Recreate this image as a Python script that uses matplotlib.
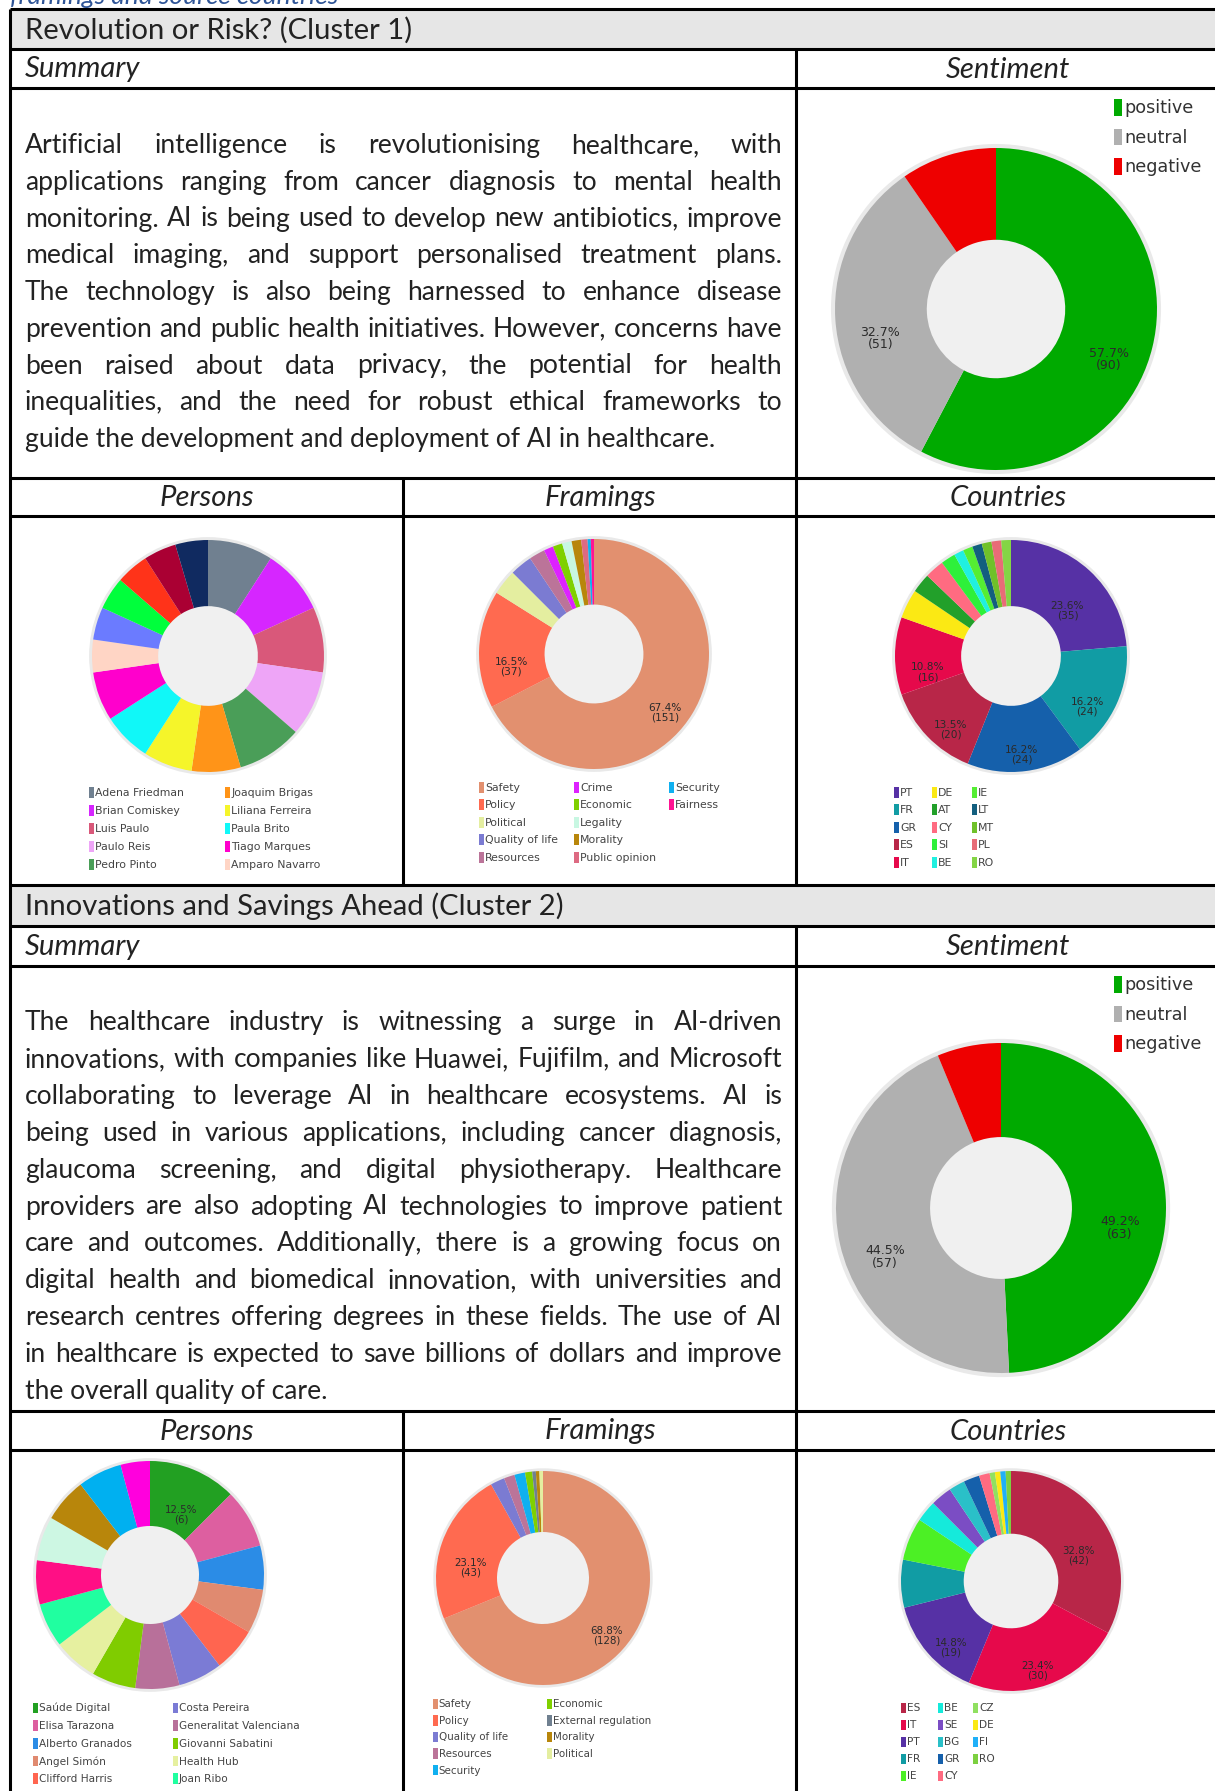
import matplotlib
matplotlib.use("Agg")
import matplotlib.pyplot as plt
from matplotlib.patches import Circle, Rectangle
from matplotlib.legend import Legend

# ---------------- data ----------------
caption = "framings and source countries"
cluster_titles = ["Revolution or Risk? (Cluster 1)",
                  "Innovations and Savings Ahead (Cluster 2)"]

summary_1 = [
    "Artificial intelligence is revolutionising healthcare, with",
    "applications ranging from cancer diagnosis to mental health",
    "monitoring. AI is being used to develop new antibiotics, improve",
    "medical imaging, and support personalised treatment plans.",
    "The technology is also being harnessed to enhance disease",
    "prevention and public health initiatives. However, concerns have",
    "been raised about data privacy, the potential for health",
    "inequalities, and the need for robust ethical frameworks to",
    "guide the development and deployment of AI in healthcare.",
]
summary_2 = [
    "The healthcare industry is witnessing a surge in AI-driven",
    "innovations, with companies like Huawei, Fujifilm, and Microsoft",
    "collaborating to leverage AI in healthcare ecosystems. AI is",
    "being used in various applications, including cancer diagnosis,",
    "glaucoma screening, and digital physiotherapy. Healthcare",
    "providers are also adopting AI technologies to improve patient",
    "care and outcomes. Additionally, there is a growing focus on",
    "digital health and biomedical innovation, with universities and",
    "research centres offering degrees in these fields. The use of AI",
    "in healthcare is expected to save billions of dollars and improve",
    "the overall quality of care.",
]

sentiment_labels = ["positive", "neutral", "negative"]
sentiment_colors = ["#00aa00", "#b0b0b0", "#ee0000"]
sentiment_1 = [90, 51, 15]
sentiment_2 = [63, 57, 8]

persons_1_labels = ["Adena Friedman", "Brian Comiskey", "Luis Paulo", "Paulo Reis",
                    "Pedro Pinto", "Joaquim Brigas", "Liliana Ferreira", "Paula Brito",
                    "Tiago Marques", "Amparo Navarro"]
persons_1_values = [4, 4, 4, 4, 4, 3, 3, 3, 3, 2, 2, 2, 2, 2, 2]
persons_1_colors = ["#708090", "#d626ff", "#d9587a", "#eea5f7", "#4a9e58", "#ff9418",
                    "#f5f52a", "#10f8f8", "#ff00cc", "#ffd5c5", "#6b7bff", "#00ff3c",
                    "#ff3319", "#aa0033", "#102a60"]

framings_1_labels = ["Safety", "Policy", "Political", "Quality of life", "Resources",
                     "Crime", "Economic", "Legality", "Morality", "Public opinion",
                     "Security", "Fairness"]
framings_1_values = [151, 37, 8, 7, 5, 3, 3, 3, 3, 2, 1, 1]
framings_1_colors = ["#e2906f", "#ff6a50", "#e4eea0", "#7b7bd2", "#bb7499", "#dd22ff",
                     "#7fd000", "#c8f7e2", "#b8860b", "#dd6a82", "#10b0f0", "#ff1493"]

countries_1_labels = ["PT", "FR", "GR", "ES", "IT", "DE", "AT", "CY", "SI", "BE",
                      "IE", "LT", "MT", "PL", "RO"]
countries_1_values = [35, 24, 24, 20, 16, 6, 4, 4, 3, 2, 2, 2, 2, 2, 2]
countries_1_colors = ["#5631a5", "#119ca4", "#1560ab", "#b82648", "#e6094b", "#fbe914",
                      "#22a02a", "#ff6b81", "#2ef03a", "#20f0e0", "#55ee33", "#135f7f",
                      "#70c12a", "#e86c77", "#84d545"]

persons_2_labels = ["Saúde Digital", "Elisa Tarazona", "Alberto Granados", "Angel Simón",
                    "Clifford Harris", "Costa Pereira", "Generalitat Valenciana",
                    "Giovanni Sabatini", "Health Hub", "Joan Ribo"]
persons_2_values = [6, 4, 3, 3, 3, 3, 3, 3, 3, 3, 3, 3, 3, 3, 2]
persons_2_colors = ["#22a022", "#dd5fa0", "#2b8ce6", "#e08a70", "#ff6550", "#7b7bd5",
                    "#b8709a", "#80cc00", "#e6f0a0", "#20ffa0", "#ff0f85", "#cdf7e3",
                    "#b8860b", "#00b0f0", "#ff00dd"]

framings_2_labels = ["Safety", "Policy", "Quality of life", "Resources", "Security",
                     "Economic", "External regulation", "Morality", "Political"]
framings_2_values = [128, 43, 4, 3, 3, 2, 1, 1, 1]
framings_2_colors = ["#e2906f", "#ff6a50", "#7b7bd2", "#bb7499", "#10b0f0", "#7fd000",
                     "#708090", "#b8860b", "#e4eea0"]

countries_2_labels = ["ES", "IT", "PT", "FR", "IE", "BE", "SE", "BG", "GR", "CY",
                      "CZ", "DE", "FI", "RO"]
countries_2_values = [42, 30, 19, 9, 8, 4, 4, 3, 3, 2, 1, 1, 1, 1]
countries_2_colors = ["#b82648", "#e6094b", "#5631a5", "#119ca4", "#4cf025", "#15eadb",
                      "#7b4dc4", "#2ac0c8", "#1560ab", "#ff6b81", "#90e060", "#fbe914",
                      "#20b0f8", "#7cd040"]

# ---------------- figure ----------------
W, H = 1215, 1791
fig = plt.figure(figsize=(W / 100, H / 100), dpi=100)
fig.patch.set_facecolor("white")
bg = fig.add_axes([0, 0, 1, 1])
bg.set_xlim(0, W)
bg.set_ylim(H, 0)
bg.axis("off")
renderer = fig.canvas.get_renderer()

FONT = ["Lato", "DejaVu Sans"]
FW = "normal"
TXT = "#222222"


def text_width(s, fs, **kw):
    t = bg.text(0, 0, s, fontsize=fs, family=FONT, fontweight=FW, **kw)
    w = t.get_window_extent(renderer).width
    t.remove()
    return w


# ---------------- table grid ----------------
LX, RX = 10, W + 5
C1, C2 = 403, 796
LW = 2.2


def hline(y):
    bg.plot([LX, RX], [y, y], color="black", lw=LW, solid_capstyle="butt", zorder=3)


def vline(x, y0, y1):
    bg.plot([x, x], [y0, y1], color="black", lw=LW, solid_capstyle="butt", zorder=3)


blocks = [
    dict(top=9, title_b=49, sum_b=88, cont_b=478, hdr_b=516, bot=885),
    dict(top=885, title_b=926, sum_b=966, cont_b=1411, hdr_b=1450, bot=1795),
]
for b in blocks:
    bg.add_patch(Rectangle((LX, b["top"]), RX - LX, b["title_b"] - b["top"],
                           facecolor="#e6e6e6", edgecolor="none", zorder=1))
    for y in (b["top"], b["title_b"], b["sum_b"], b["cont_b"], b["hdr_b"]):
        hline(y)
    vline(C2, b["title_b"], b["bot"])
    vline(C1, b["cont_b"], b["bot"])
vline(LX, 9, H + 5)

# caption (page text cut at the top edge, as in the source)
bg.text(10, 3.5, caption, fontsize=19, family=FONT, style="italic",
        color="#2f5597", va="baseline")

# headings
title_fs = 10 * 388 / text_width(cluster_titles[0], 10)
for b, title in zip(blocks, cluster_titles):
    bg.text(25, (b["top"] + b["title_b"]) / 2 + 1, title, fontsize=title_fs,
            family=FONT, fontweight=FW, color=TXT, va="center", ha="left", zorder=4)
    ym = (b["title_b"] + b["sum_b"]) / 2 + 1
    bg.text(25, ym, "Summary", fontsize=title_fs, family=FONT, fontweight=FW,
            style="italic", color=TXT, va="center", ha="left")
    bg.text(1008, ym, "Sentiment", fontsize=title_fs, family=FONT, fontweight=FW,
            style="italic", color=TXT, va="center", ha="center")
    yh = (b["cont_b"] + b["hdr_b"]) / 2 + 1
    for xc, lab in ((207, "Persons"), (600, "Framings"), (1008, "Countries")):
        bg.text(xc, yh, lab, fontsize=title_fs, family=FONT, fontweight=FW,
                style="italic", color=TXT, va="center", ha="center")

# justified summary text
X0, X1 = 25, 782
longest = max(text_width(s, 10) for s in summary_1 + summary_2)
body_fs = 10 * (X1 - X0) / longest * 0.995


def justified(lines, y_first, dy):
    for i, line in enumerate(lines):
        y = y_first + i * dy
        if i == len(lines) - 1:
            bg.text(X0, y, line, fontsize=body_fs, family=FONT, fontweight=FW,
                    color=TXT, va="baseline")
            continue
        words = line.split()
        ws = [text_width(w, body_fs) for w in words]
        gap = (X1 - X0 - sum(ws)) / (len(words) - 1)
        x = X0
        for w, wd in zip(words, ws):
            bg.text(x, y, w, fontsize=body_fs, family=FONT, fontweight=FW,
                    color=TXT, va="baseline")
            x += wd + gap


justified(summary_1, 153, 36.75)
justified(summary_2, 1030, 36.9)


# ---------------- donuts ----------------
def donut(cx, cy, r, values, colors, pct_fs, rin=0.43):
    pad = 1.06
    side = 2 * r * pad
    ax = fig.add_axes([(cx - side / 2) / W, 1 - (cy + side / 2) / H, side / W, side / H])
    ax.add_patch(Circle((0, 0), 1.025, facecolor="#e9e9e9", edgecolor="none", zorder=0))
    total = sum(values)

    def fmt(p):
        if p < 10:
            return ""
        return f"{p:.1f}%\n({int(round(p * total / 100))})"

    wedges, _, autotexts = ax.pie(values, colors=colors, startangle=90, counterclock=False,
                                  radius=1, wedgeprops=dict(width=1 - rin, linewidth=0),
                                  autopct=fmt, pctdistance=0.72,
                                  textprops=dict(fontsize=pct_fs, color="#2a2a2a",
                                                 linespacing=0.95))
    for t in autotexts:
        x, y = t.get_position()
        t.set_position((x, y - 0.14))
    ax.add_patch(Circle((0, 0), rin, facecolor="#f0f0f0", edgecolor="none", zorder=0.5))
    ax.set_xlim(-pad, pad)
    ax.set_ylim(-pad, pad)
    ax.set_aspect("equal")
    ax.axis("off")
    return wedges


def _make_leg(handles, labels, x, y_top, fs, ls, hl, hh, color):
    leg = Legend(bg, handles, labels, loc="upper left", bbox_to_anchor=(x, y_top),
                 bbox_transform=bg.transData, frameon=False, fontsize=fs,
                 handlelength=hl, handleheight=hh, handletextpad=0.12,
                 borderpad=0, borderaxespad=0, labelspacing=ls, labelcolor=color)
    bg.add_artist(leg)
    return leg


def legend_cols(wedges, labels, xs, y_top, fs, pitch, per_col=5,
                hl=0.45, hh=1.2, color="#444444"):
    fs_px = fs / 72 * 100
    ls = max(pitch / fs_px - hh, 0)
    # calibrate spacing on the first column
    idx = list(range(0, min(per_col, len(labels))))
    probe = _make_leg([wedges[i] for i in idx], [labels[i] for i in idx],
                      xs[0], y_top, fs, ls, hl, hh, color)
    fig.canvas.draw()
    ys = [t.get_window_extent(renderer).y0 for t in probe.get_texts()]
    if len(ys) > 1:
        p0 = (ys[0] - ys[-1]) / (len(ys) - 1)
        ls = max(ls + (pitch - p0) / fs_px, 0)
    probe.remove()
    for ci, x in enumerate(xs):
        idx = list(range(ci * per_col, min((ci + 1) * per_col, len(labels))))
        if not idx:
            continue
        _make_leg([wedges[i] for i in idx], [labels[i] for i in idx],
                  x, y_top, fs, ls, hl, hh, color)


# cluster 1
w = donut(996, 309, 161, sentiment_1, sentiment_colors, 9)
legend_cols(w, sentiment_labels, [1114], 99, 12.7, 29.5, hl=0.45, hh=1.1, color="#333333")

w = donut(208, 656, 116, persons_1_values, persons_1_colors, 7.6)
legend_cols(w, persons_1_labels, [89, 225], 786.5, 7.8, 18)

w = donut(594, 654, 115, framings_1_values, framings_1_colors, 7.6)
legend_cols(w, framings_1_labels, [479, 574, 669], 781.5, 7.8, 17.5)

w = donut(1011, 656, 116, countries_1_values, countries_1_colors, 7.6)
legend_cols(w, countries_1_labels, [894, 932, 972], 786.5, 7.8, 17.5)

# cluster 2
w = donut(1001, 1208, 165, sentiment_2, sentiment_colors, 9)
legend_cols(w, sentiment_labels, [1114], 976, 12.7, 29.5, hl=0.45, hh=1.1, color="#333333")

w = donut(150, 1575, 114, persons_2_values, persons_2_colors, 7.4)
legend_cols(w, persons_2_labels, [33, 173], 1702.5, 7.6, 17.7)

w = donut(543, 1578, 107, framings_2_values, framings_2_colors, 7.4)
legend_cols(w, framings_2_labels, [433, 547], 1698.5, 7.4, 16.6)

w = donut(1011, 1581, 110, countries_2_values, countries_2_colors, 7.4)
legend_cols(w, countries_2_labels, [901, 938, 973], 1702.5, 7.6, 17)

fig.savefig("out.png", dpi=100, facecolor="white")
